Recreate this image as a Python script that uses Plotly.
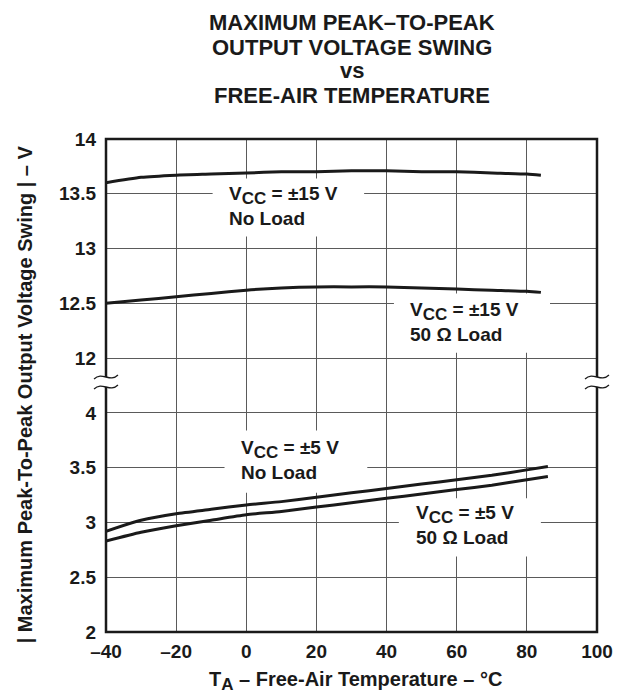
import plotly.graph_objects as go

# ---- data ----
temp_15 = [-40, -30, -20, -10, 0, 10, 20, 30, 40, 50, 60, 70, 80, 84]
vcc15_noload = [13.60, 13.65, 13.67, 13.68, 13.69, 13.70, 13.70, 13.71, 13.71, 13.70, 13.70, 13.69, 13.68, 13.67]
vcc15_50ohm = [12.50, 12.53, 12.56, 12.59, 12.62, 12.64, 12.65, 12.65, 12.65, 12.64, 12.63, 12.62, 12.61, 12.60]

temp_5 = [-40, -30, -20, -10, 0, 10, 20, 30, 40, 50, 60, 70, 80, 86]
vcc5_noload = [2.92, 3.02, 3.08, 3.12, 3.16, 3.19, 3.23, 3.27, 3.31, 3.35, 3.39, 3.43, 3.48, 3.51]
vcc5_50ohm = [2.83, 2.91, 2.97, 3.02, 3.07, 3.10, 3.14, 3.18, 3.22, 3.26, 3.30, 3.34, 3.39, 3.42]

x_ticks = [-40, -20, 0, 20, 40, 60, 80, 100]
x_ticktext = ["\u201340", "\u201320", "0", "20", "40", "60", "80", "100"]
y_low_ticks = [2, 2.5, 3, 3.5, 4]
y_low_text = ["2", "2.5", "3", "3.5", "4"]
y_high_ticks = [12, 12.5, 13, 13.5, 14]
y_high_text = ["12", "12.5", "13", "13.5", "14"]

SUB = "<sub><span style='font-size:17px'>{}</span></sub>"
title_lines = ["MAXIMUM PEAK\u2013TO-PEAK", "OUTPUT VOLTAGE SWING", "vs", "FREE-AIR TEMPERATURE"]
x_title = "T" + SUB.format("A") + " \u2013 Free-Air Temperature \u2013 \u00b0C"
y_title = "| Maximum Peak-To-Peak Output Voltage Swing | \u2013 V"

FONT = "Liberation Sans"
INK = "#1a1a1a"
GRID = "#5a5a5a"
W, H = 625, 698
ML, MR, MT, MB = 106, 26, 139, 66
PW, PH = W - ML - MR, H - MT - MB


def bold(size):
    return dict(family=FONT, size=size, color=INK, weight="bold")


def px(x, y):
    """pixel position -> paper coordinates"""
    return (x - ML) / PW, (H - MB - y) / PH


fig = go.Figure()
line_style = dict(color=INK, width=3, shape="spline", smoothing=0.6)
fig.add_trace(go.Scatter(x=temp_15, y=vcc15_noload, mode="lines", line=line_style, xaxis="x2", yaxis="y2", hoverinfo="skip"))
fig.add_trace(go.Scatter(x=temp_15, y=vcc15_50ohm, mode="lines", line=line_style, xaxis="x2", yaxis="y2", hoverinfo="skip"))
fig.add_trace(go.Scatter(x=temp_5, y=vcc5_noload, mode="lines", line=line_style, xaxis="x", yaxis="y", hoverinfo="skip"))
fig.add_trace(go.Scatter(x=temp_5, y=vcc5_50ohm, mode="lines", line=line_style, xaxis="x", yaxis="y", hoverinfo="skip"))

tickfont = bold(19)
common_x = dict(range=[-40, 100], tickvals=x_ticks, showgrid=True, gridcolor=GRID, gridwidth=1,
                zeroline=False, showline=False, ticks="")
common_y = dict(tickfont=tickfont, showgrid=True, gridcolor=GRID, gridwidth=1, zeroline=False,
                showline=False, ticks="", ticklabelstandoff=9)
fig.update_layout(
    xaxis=dict(domain=[0, 1], anchor="y", ticktext=x_ticktext, tickfont=tickfont,
               ticklabelstandoff=6, **common_x),
    xaxis2=dict(domain=[0, 1], anchor="y2", matches="x", showticklabels=False, **common_x),
    yaxis=dict(domain=[0, 0.5], range=[2, 4.25], tickvals=y_low_ticks, ticktext=y_low_text, **common_y),
    yaxis2=dict(domain=[0.5, 1], range=[11.75, 14], tickvals=y_high_ticks, ticktext=y_high_text, **common_y),
    width=W, height=H,
    margin=dict(l=ML, r=MR, t=MT, b=MB),
    paper_bgcolor="white", plot_bgcolor="white",
    showlegend=False,
)

# title lines
for text, yc in zip(title_lines, [22, 48, 71, 95]):
    fig.add_annotation(text=text, xref="paper", yref="paper", x=px(353, 0)[0], y=px(0, yc)[1],
                       xanchor="center", yanchor="middle", showarrow=False, font=bold(22))

# axis titles
fig.add_annotation(text=x_title, xref="paper", yref="paper", x=px(357, 0)[0], y=px(0, 681)[1],
                   xanchor="center", yanchor="middle", showarrow=False, font=bold(20))
fig.add_annotation(text=y_title, textangle=-90, xref="paper", yref="paper",
                   x=px(25, 0)[0], y=px(0, 394)[1],
                   xanchor="center", yanchor="middle", showarrow=False, font=bold(20))

# white boxes behind labels (interrupt grid lines)
boxes = [
    ("x2", "y2", -9.6, 33.6, 13.11, 13.64),
    ("x2", "y2", 42.1, 86.6, 12.05, 12.59),
    ("x", "y", -6.2, 34.5, 3.27, 3.84),
    ("x", "y", 43.5, 84.0, 2.69, 3.22),
]
for xr, yr, x0, x1, y0, y1 in boxes:
    fig.add_shape(type="rect", xref=xr, yref=yr, x0=x0, x1=x1, y0=y0, y1=y1,
                  fillcolor="white", line=dict(width=0), layer="between")

vcc = "V" + SUB.format("CC")
labels = [
    ("x2", "y2", -5.4, 13.39, vcc + " = \u00b115 V<br>No Load"),
    ("x2", "y2", 46.2, 12.33, vcc + " = \u00b115 V<br>50 \u03a9 Load"),
    ("x", "y", -2.1, 3.57, vcc + " = \u00b15 V<br>No Load"),
    ("x", "y", 47.8, 2.98, vcc + " = \u00b15 V<br>50 \u03a9 Load"),
]
for xr, yr, x, y, t in labels:
    fig.add_annotation(text=t, xref=xr, yref=yr, x=x, y=y, xanchor="left", yanchor="middle",
                       align="left", showarrow=False, font=bold(19))

# frame
fig.add_shape(type="rect", xref="paper", yref="paper", x0=0, x1=1, y0=0, y1=1,
              line=dict(color=INK, width=2.5), layer="above")


# axis break marks
def wave(cx, cy):
    pts = [px(cx - 12, cy + 2), px(cx - 4, cy - 6), px(cx + 4, cy + 6), px(cx + 12, cy - 2)]
    return "M {:.5f},{:.5f} C {:.5f},{:.5f} {:.5f},{:.5f} {:.5f},{:.5f}".format(
        *pts[0], *pts[1], *pts[2], *pts[3])


for cx in (ML, W - MR):
    a = px(cx - 3, 377)
    b = px(cx + 3, 387)
    fig.add_shape(type="rect", xref="paper", yref="paper", x0=a[0], x1=b[0], y0=b[1], y1=a[1],
                  fillcolor="white", line=dict(width=0), layer="above")
    for cy in (377, 387):
        fig.add_shape(type="path", xref="paper", yref="paper", path=wave(cx, cy),
                      line=dict(color=INK, width=1.3), layer="above")

fig.write_html("out.html", post_script="document.body.style.margin='0';",
               config={"displayModeBar": False})
